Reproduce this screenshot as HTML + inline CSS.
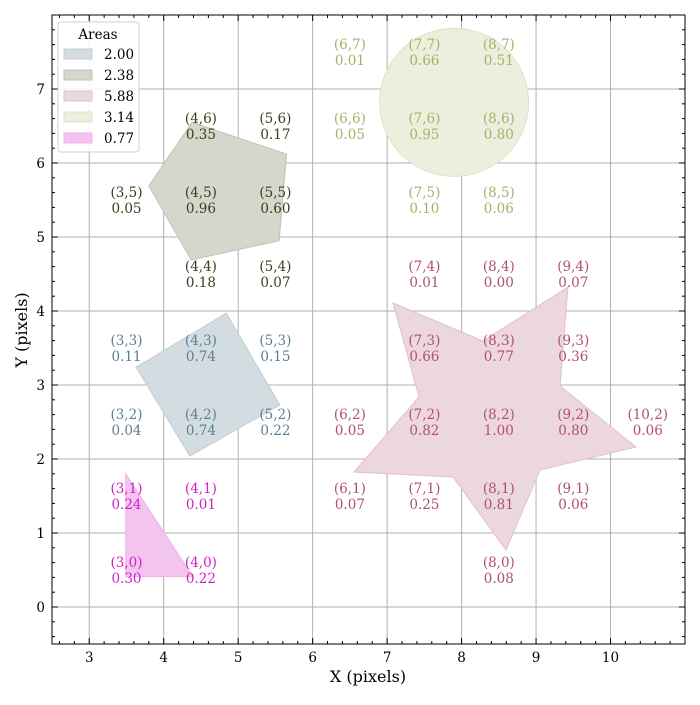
<!DOCTYPE html>
<html><head><meta charset="utf-8"><style>
body{margin:0;background:#fff}
svg text{font-family:"DejaVu Serif","Liberation Serif",serif}
</style></head><body>
<svg id="c" width="700" height="700"></svg>
<script>
const cellsI=[3,4,5,3,4,5, 4,5,3,4,5,4,5, 6,7,8,6,7,8,7,8, 7,8,9,7,8,9,6,7,8,9,10,6,7,8,9,8, 3,4,3,4];
const cellsJ=[3,3,3,2,2,2, 6,6,5,5,5,4,4, 7,7,7,6,6,6,5,5, 4,4,4,3,3,3,2,2,2,2,2,1,1,1,1,0, 1,1,0,0];
const cellVals=[0.11,0.74,0.15,0.04,0.74,0.22, 0.35,0.17,0.05,0.96,0.60,0.18,0.07, 0.01,0.66,0.51,0.05,0.95,0.80,0.10,0.06, 0.01,0.00,0.07,0.66,0.77,0.36,0.05,0.82,1.00,0.80,0.06,0.07,0.25,0.81,0.06,0.08, 0.24,0.01,0.30,0.22];
const cellGroup=[0,0,0,0,0,0, 1,1,1,1,1,1,1, 3,3,3,3,3,3,3,3, 2,2,2,2,2,2,2,2,2,2,2,2,2,2,2,2, 4,4,4,4];
const areaLabels=["2.00","2.38","5.88","3.14","0.77"];
const xTicks=[0,3,4,5,6,7,8,9,10].slice(1);
const yTicks=[0,1,2,3,4,5,6,7];
const textCol=["#5a7f94","#3e3e1c","#b0506e","#a8b068","#d020c8"];
const fillCol=["#d3dde1","#d5d6cc","#ecd7de","#edeedd","#f4c4f0"];
const strokeCol=["#c0ced4","#c2c3b5","#e0c2cc","#e0e2c8","#f0b0ea"];
const X=v=>52+(v-2.5)*(633/8.5), Y=v=>607-v*74;
const s=document.getElementById('c'),NS="http://www.w3.org/2000/svg";
function mk(t,a,p){const e=document.createElementNS(NS,t);for(const k in a)e.setAttribute(k,a[k]);(p||s).appendChild(e);return e;}
mk('rect',{x:52,y:15,width:633,height:629,fill:'#fff'});
// grid
xTicks.forEach(v=>{const g=mk('line',{x1:X(v),x2:X(v),y1:15,y2:644,stroke:'#b0b0b0','stroke-width':1});

});
yTicks.forEach(v=>{const g=mk('line',{x1:52,x2:685,y1:Y(v),y2:Y(v),stroke:'#b0b0b0','stroke-width':1});

});
// shapes (data coordinates)
const sq=[[3.63,3.24],[4.84,3.97],[5.56,2.73],[4.35,2.04]];
const pent=[[3.80,5.69],[4.38,6.55],[5.65,6.12],[5.55,4.95],[4.37,4.69]];
const starPx=[[393,303],[483,341],[568,287],[560,386],[636,447],[540,470],[506,550],[453,477],[354,472],[419,397]];
const star=starPx.map(p=>[(p[0]-52)/(633/8.5)+2.5,(607-p[1])/74]);
const tri=[[3.49,1.80],[3.49,0.41],[4.39,0.41]];
const polys=[[sq,0,'square-patch'],[pent,1,'pentagon-patch'],[star,2,'star-patch'],[tri,4,'triangle-patch']];
polys.forEach(([pts,g,n])=>{const e=mk('polygon',{points:pts.map(p=>X(p[0])+','+Y(p[1])).join(' '),fill:fillCol[g],stroke:strokeCol[g],'stroke-width':1});

});
const ci=mk('ellipse',{cx:X(7.9),cy:Y(6.82),rx:74.5,ry:74,fill:fillCol[3],stroke:strokeCol[3]});


// cell labels
cellVals.forEach((v,k)=>{const cx=X(cellsI[k]+0.5),cy=Y(cellsJ[k]+0.5);
const t=mk('text',{x:cx,y:cy-3,'text-anchor':'middle','font-size':13.5,fill:textCol[cellGroup[k]]});
t.textContent='('+cellsI[k]+','+cellsJ[k]+')';


const u=mk('text',{x:cx,y:cy+13,'text-anchor':'middle','font-size':13.5,fill:textCol[cellGroup[k]]});
u.textContent=v.toFixed(2);

});
// frame
mk('rect',{x:52,y:15,width:633,height:629,fill:'none',stroke:'#000','stroke-width':1});
// ticks
for(let v=2.6;v<11;v+=0.2){const px=X(v);if(px<52||px>685)continue;
const major=Math.abs(v-Math.round(v))<1e-6&&Math.round(v)>=3;const L=major?6:3;
mk('line',{x1:px,x2:px,y1:644,y2:644-L,stroke:'#000'});mk('line',{x1:px,x2:px,y1:15,y2:15+L,stroke:'#000'});}
for(let v=-0.4;v<8;v+=0.2){const py=Y(v);if(py<15||py>644)continue;
const major=Math.abs(v-Math.round(v))<1e-6;const L=major?6:3;
mk('line',{x1:52,x2:52+L,y1:py,y2:py,stroke:'#000'});mk('line',{x1:685,x2:685-L,y1:py,y2:py,stroke:'#000'});}
xTicks.forEach(v=>{const t=mk('text',{x:X(v),y:662,'text-anchor':'middle','font-size':13.5});t.textContent=v;

});
yTicks.forEach(v=>{const t=mk('text',{x:45,y:Y(v)+5,'text-anchor':'end','font-size':13.5});t.textContent=v;

});
const xt=mk('text',{x:368,y:682,'text-anchor':'middle','font-size':16});xt.textContent='X (pixels)';


const yt=mk('text',{x:0,y:0,'text-anchor':'middle','font-size':16,transform:'translate(27,330) rotate(-90)'});yt.textContent='Y (pixels)';


// legend
const lg=mk('g',{});


mk('rect',{x:58,y:22,width:81,height:130,rx:3,fill:'#fff','fill-opacity':0.85,stroke:'#d0d0d0'},lg);
const lt=mk('text',{x:98,y:39,'text-anchor':'middle','font-size':13.5},lg);lt.textContent='Areas';
areaLabels.forEach((a,k)=>{const yy=54+k*21;
const r=mk('rect',{x:64,y:yy-5,width:28,height:10,fill:fillCol[k],stroke:strokeCol[k]},lg);


const t=mk('text',{x:104,y:yy+5,'font-size':13.5},lg);t.textContent=a;});
</script>
</body></html>
